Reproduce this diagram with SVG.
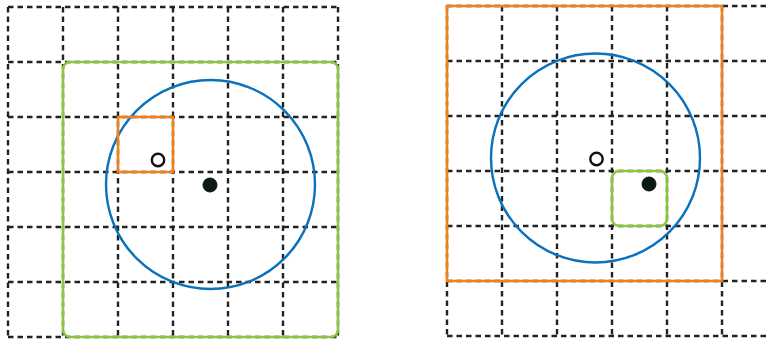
<svg xmlns="http://www.w3.org/2000/svg" width="769" height="340" viewBox="0 0 769 340">
<style>
.grid{stroke:#222;stroke-width:2.4;stroke-dasharray:5.5 4;fill:none}
.circ{fill:none;stroke:#0a72bc;stroke-width:2.4}
.org{fill:none;stroke:#f0821e;stroke-width:2.6}
.grn{fill:none;stroke:#8cc63f;stroke-width:2.6}
.open{fill:#fff;stroke:#111;stroke-width:2.4}
.dot{fill:#0b1a10;stroke:#111;stroke-width:1}
</style>
<rect width="769" height="340" fill="#fff"/>
<g id="left-grid" class="grid">
<path d="M8 7V337M63 7V337M118 7V337M173 7V337M228 7V337M283 7V337M338 7V337"/>
<path d="M8 7H338M8 62H338M8 117H338M8 172H338M8 227H338M8 282H338M8 337H338"/>
</g>
<g id="right-grid" class="grid">
<path d="M447 6V336M502 6V336M557 6V336M612 6V336M667 6V336M722 6V336"/>
<path d="M447 6H777M447 61H777M447 116H777M447 171H777M447 226H777M447 281H777M447 336H777"/>
</g>
<g id="left-green"><rect class="grn" x="63" y="62" width="275" height="275" rx="7"/></g>
<g id="left-blue"><circle class="circ" cx="210.5" cy="184.5" r="104.5"/></g>
<g id="left-orange"><rect class="org" x="118" y="117" width="55" height="55"/></g>
<g id="left-open"><circle class="open" cx="158" cy="160" r="6.2"/></g>
<g id="left-dot"><circle class="dot" cx="210" cy="185" r="7"/></g>
<g id="right-orange"><rect class="org" x="447" y="6" width="275" height="275"/></g>
<g id="right-blue"><circle class="circ" cx="595.5" cy="158" r="104.5"/></g>
<g id="right-green"><rect class="grn" x="612" y="171" width="55" height="55" rx="7"/></g>
<g id="right-open"><circle class="open" cx="596.5" cy="159" r="6.2"/></g>
<g id="right-dot"><circle class="dot" cx="649" cy="184" r="7"/></g>
</svg>
